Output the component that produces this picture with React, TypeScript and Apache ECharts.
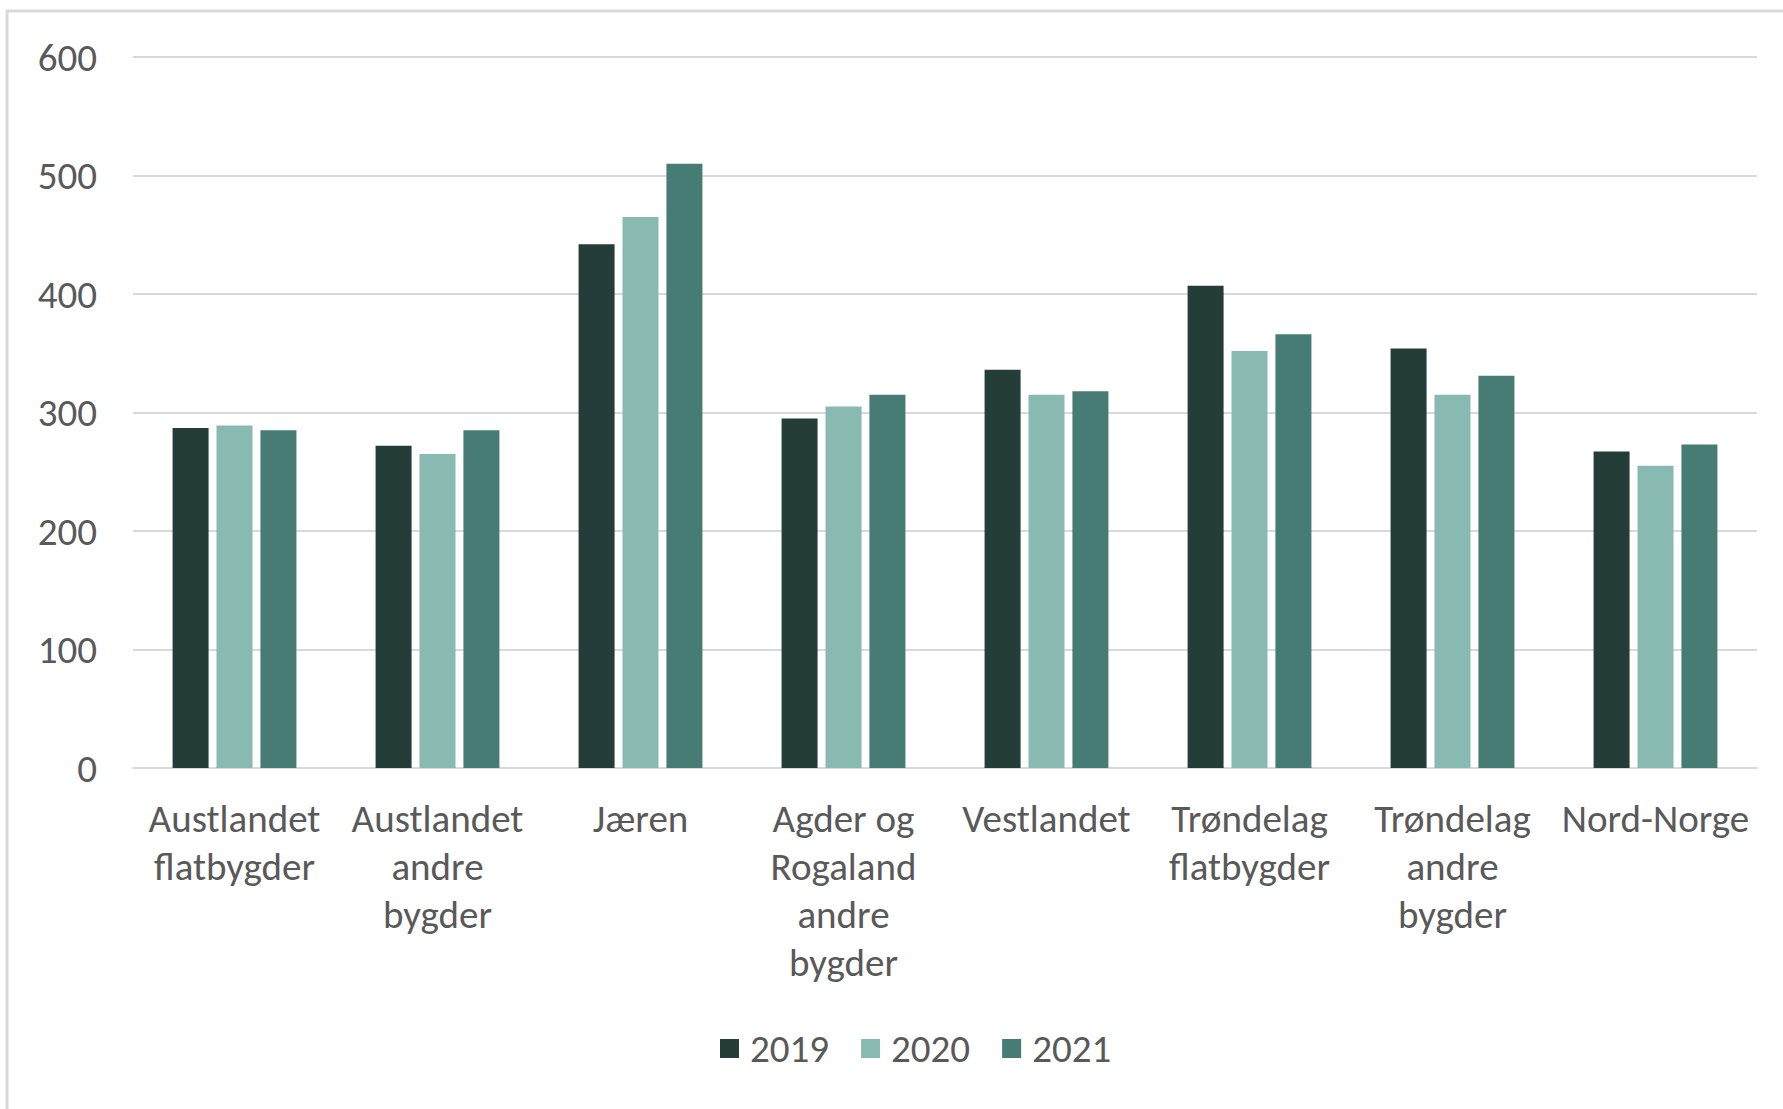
import React, { useEffect, useRef } from "react";
import * as echarts from "echarts";

const categories = [
  "Austlandet\nflatbygder",
  "Austlandet\nandre\nbygder",
  "Jæren",
  "Agder og\nRogaland\nandre\nbygder",
  "Vestlandet",
  "Trøndelag\nflatbygder",
  "Trøndelag\nandre\nbygder",
  "Nord-Norge",
];
const seriesNames = ["2019", "2020", "2021"];
const values2019 = [287, 272, 442, 295, 336, 407, 354, 267];
const values2020 = [289, 265, 465, 305, 315, 352, 315, 255];
const values2021 = [285, 285, 510, 315, 318, 366, 331, 273];
const colors = ["#243D39", "#89BAB2", "#467C73"];

const FONT = "Carlito, 'Liberation Sans', sans-serif";

export default function App() {
  const ref = useRef<HTMLDivElement>(null);
  useEffect(() => {
    if (!ref.current) return;
    const chart = echarts.init(ref.current, null, { renderer: "svg" });
    const data = [values2019, values2020, values2021];
    chart.setOption({
      animation: false,
      backgroundColor: "#ffffff",
      textStyle: { fontFamily: FONT },
      graphic: [
        {
          type: "rect",
          shape: { x: 7, y: 11, width: 1800, height: 1200 },
          style: { fill: "none", stroke: "#d9d9d9", lineWidth: 3 },
          silent: true,
        },
      ],
      grid: { left: 133, right: 26, top: 57, bottom: 341, containLabel: false },
      legend: {
        data: seriesNames,
        left: 715,
        top: 1024,
        itemWidth: 19,
        itemHeight: 19,
        itemGap: 32,
        icon: "rect",
        textStyle: {
          fontSize: 39,
          color: "#595959",
          fontFamily: FONT,
          padding: [0, 0, 0, 6],
        },
      },
      xAxis: {
        type: "category",
        data: categories,
        axisLine: { lineStyle: { color: "#d9d9d9", width: 2 } },
        axisTick: { show: false },
        axisLabel: {
          interval: 0,
          margin: 26,
          fontSize: 39,
          lineHeight: 48,
          color: "#595959",
          fontFamily: FONT,
        },
      },
      yAxis: {
        type: "value",
        min: 0,
        max: 600,
        interval: 100,
        axisLine: { show: false },
        axisTick: { show: false },
        splitLine: { lineStyle: { color: "#d9d9d9", width: 2 } },
        axisLabel: { margin: 36, fontSize: 39, color: "#595959", fontFamily: FONT },
      },
      series: seriesNames.map((name, i) => ({
        name,
        type: "bar",
        data: data[i],
        barWidth: 36,
        barGap: "22%",
        itemStyle: { color: colors[i] },
      })),
    });
    return () => chart.dispose();
  }, []);
  return (
    <div
      ref={ref}
      style={{ position: "fixed", left: 0, top: 0, width: 1783, height: 1109 }}
    />
  );
}
